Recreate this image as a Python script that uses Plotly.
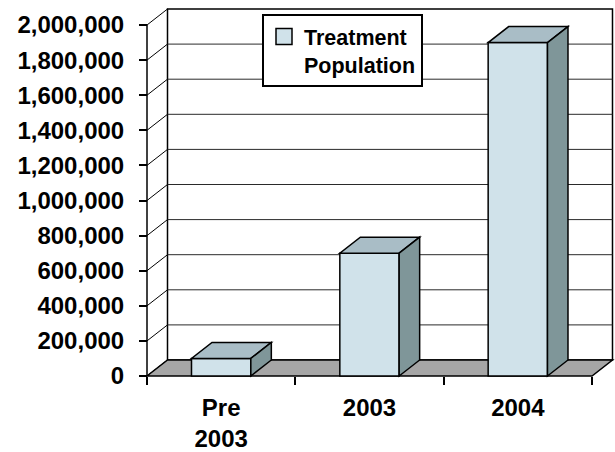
import plotly.graph_objects as go

# ---------------- data ----------------
categories = ["Pre<br>2003", "2003", "2004"]
values = [100000, 700000, 1900000]
series_name = "Treatment<br>Population"
y_ticks = [0, 200000, 400000, 600000, 800000, 1000000,
           1200000, 1400000, 1600000, 1800000, 2000000]
y_tick_labels = [f"{v:,}" for v in y_ticks]

# ---------------- style ----------------
FRONT = "#d0e2ea"
TOP = "#a9bdc6"
SIDE = "#7f9699"
FLOOR = "#a6a6a6"
EDGE = "black"
FONT = "Arial, Liberation Sans, sans-serif"

W, H = 615, 452
PX_PER_CAT = 148.33          # pixels per category
PX_PER_VAL = 175.5 / 1e6     # pixels per value unit
FRONT_X_PX = 147             # pixel of left front edge
ZERO_Y_PX = 376              # pixel of value 0 on the front plane
DEPTH_X_PX, DEPTH_Y_PX = 20.5, 16
DX = DEPTH_X_PX / PX_PER_CAT
DY = DEPTH_Y_PX / PX_PER_VAL
BAR_W = 0.4

ML, MR, MT, MB = 140, 0, 4, 70
plot_w = W - ML - MR
plot_h = H - MT - MB
x_lo = -0.5
x_hi = len(categories) - 0.5
x_range = [x_lo - (FRONT_X_PX - ML) / PX_PER_CAT,
           x_lo + (W - MR - FRONT_X_PX) / PX_PER_CAT]
y_range = [-((H - MB) - ZERO_Y_PX) / PX_PER_VAL,
           (ZERO_Y_PX - MT) / PX_PER_VAL]
ymax = y_ticks[-1]


def poly(pts):
    return "M " + " L ".join(f"{x},{y}" for x, y in pts) + " Z"


shapes = []
# back wall
shapes.append(dict(type="path", layer="below", xref="x", yref="y",
                   path=poly([(x_lo + DX, DY), (x_hi + DX, DY),
                              (x_hi + DX, ymax + DY), (x_lo + DX, ymax + DY)]),
                   fillcolor="white", line=dict(color=EDGE, width=1.5)))
# back wall gridlines
for v in y_ticks[1:-1]:
    shapes.append(dict(type="line", layer="below", xref="x", yref="y",
                       x0=x_lo + DX, x1=x_hi + DX, y0=v + DY, y1=v + DY,
                       line=dict(color="#2a2a2a", width=1)))
# left wall diagonals
for v in y_ticks:
    shapes.append(dict(type="line", layer="below", xref="x", yref="y",
                       x0=x_lo, x1=x_lo + DX, y0=v, y1=v + DY,
                       line=dict(color=EDGE, width=1)))
# left wall front edge
shapes.append(dict(type="line", layer="below", xref="x", yref="y",
                   x0=x_lo, x1=x_lo, y0=0, y1=ymax,
                   line=dict(color=EDGE, width=1.5)))
# floor
shapes.append(dict(type="path", layer="below", xref="x", yref="y",
                   path=poly([(x_lo, 0), (x_hi, 0), (x_hi + DX, DY), (x_lo + DX, DY)]),
                   fillcolor=FLOOR, line=dict(color=EDGE, width=1.5)))

# bar tops and sides
for i, v in enumerate(values):
    xl, xr = i - BAR_W / 2, i + BAR_W / 2
    shapes.append(dict(type="path", layer="above", xref="x", yref="y",
                       path=poly([(xl, v), (xr, v), (xr + DX, v + DY), (xl + DX, v + DY)]),
                       fillcolor=TOP, line=dict(color=EDGE, width=1.5)))
    shapes.append(dict(type="path", layer="above", xref="x", yref="y",
                       path=poly([(xr, 0), (xr + DX, DY), (xr + DX, v + DY), (xr, v)]),
                       fillcolor=SIDE, line=dict(color=EDGE, width=1.5)))

fig = go.Figure()
fig.add_trace(go.Bar(x=categories, y=values, width=BAR_W,
                     marker=dict(color=FRONT, line=dict(color=EDGE, width=1.5)),
                     showlegend=False, name=series_name))
# legend entry
fig.add_trace(go.Scatter(x=[None], y=[None], mode="markers", name=series_name,
                         marker=dict(symbol="square", size=16, color=FRONT,
                                     line=dict(color=EDGE, width=1.5))))

fig.update_layout(
    width=W, height=H,
    margin=dict(l=ML, r=MR, t=MT, b=MB),
    paper_bgcolor="white", plot_bgcolor="white",
    shapes=shapes,
    showlegend=True,
    legend=dict(x=(262 - ML) / plot_w, y=((H - MB) - 14) / plot_h,
                xanchor="left", yanchor="top", valign="top",
                bgcolor="white", bordercolor=EDGE, borderwidth=2,
                font=dict(family=FONT, size=21.5, color="black", weight="bold")),
    xaxis=dict(type="category", range=x_range, tickson="boundaries",
               ticks="outside", ticklen=8, tickwidth=1.5, tickcolor=EDGE,
               showgrid=False, zeroline=False, showline=False,
               anchor="free", position=((H - MB) - ZERO_Y_PX) / plot_h,
               tickfont=dict(family=FONT, size=24, color="black", weight="bold"),
               ticklabelstandoff=15),
    yaxis=dict(range=y_range, tickvals=y_ticks, ticktext=y_tick_labels,
               ticks="outside", ticklen=8, tickwidth=1.5, tickcolor=EDGE,
               showgrid=False, zeroline=False, showline=False,
               anchor="free", position=(FRONT_X_PX - ML) / plot_w,
               tickfont=dict(family=FONT, size=24, color="black", weight="bold"),
               ticklabelstandoff=10),
)

fig.write_html("out.html")
